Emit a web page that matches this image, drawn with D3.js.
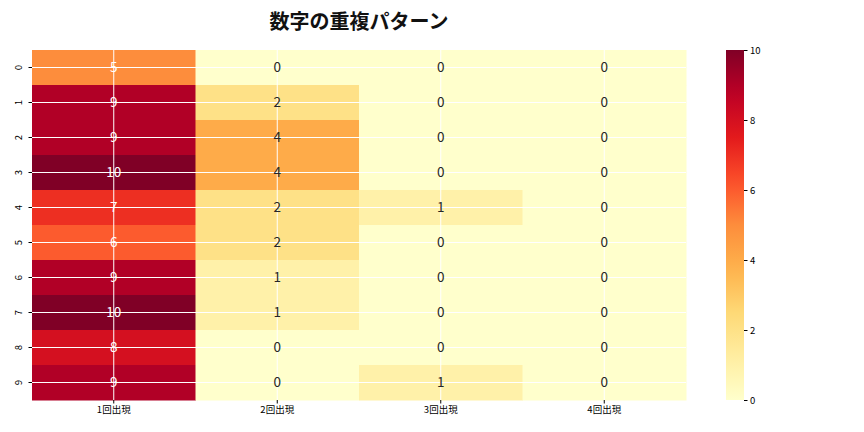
<!DOCTYPE html>
<html>
<head>
<meta charset="utf-8">
<script src="https://cdn.jsdelivr.net/npm/d3@7"></script>
<style>
  body { margin: 0; background: #fff; }
  text { font-family: "Noto Sans CJK JP", sans-serif; }
</style>
</head>
<body>
<svg id="chart" width="864" height="432"></svg>
<script>
// counts per digit (rows) and repeat count (columns)
const digits = ["0","1","2","3","4","5","6","7","8","9"];
const columns = ["1回出現","2回出現","3回出現","4回出現"];
const once   = [5, 9, 9, 10, 7, 6, 9, 10, 8, 9];
const twice  = [0, 2, 4, 4, 2, 2, 1, 1, 0, 0];
const thrice = [0, 0, 0, 0, 1, 0, 0, 0, 0, 1];
const four   = [0, 0, 0, 0, 0, 0, 0, 0, 0, 0];
const colorTicks = [0, 2, 4, 6, 8, 10];

const series = [once, twice, thrice, four];
const cells = [];
digits.forEach((d, i) => {
  columns.forEach((c, j) => cells.push({row: d, col: c, value: series[j][i]}));
});

const svg = d3.select("#chart");
const mLeft = 32, mRight = 686, mTop = 50, mBottom = 400;

const x = d3.scaleBand().domain(columns).range([mLeft, mRight]);
const y = d3.scaleBand().domain(digits).range([mTop, mBottom]);

// matplotlib-like YlOrRd: linear through the 9 brewer colours
const brewer = d3.schemeYlOrRd[9];
const color = d3.scaleLinear()
  .domain(d3.range(9).map(i => i * 10 / 8))
  .range(brewer)
  .interpolate(d3.interpolateRgb)
  .clamp(true);

svg.append("g").selectAll("rect")
  .data(cells)
  .join("rect")
  .attr("x", d => x(d.col))
  .attr("y", d => y(d.row))
  .attr("width", x.bandwidth() + 0.5)
  .attr("height", y.bandwidth() + 0.5)
  .attr("fill", d => color(d.value));

// white grid at tick positions
const grid = svg.append("g").attr("stroke", "#fff").attr("stroke-width", 1);
columns.forEach(c => {
  const cx = x(c) + x.bandwidth() / 2;
  grid.append("line").attr("x1", cx).attr("x2", cx).attr("y1", mTop).attr("y2", mBottom);
});
digits.forEach(d => {
  const cy = y(d) + y.bandwidth() / 2;
  grid.append("line").attr("x1", mLeft).attr("x2", mRight).attr("y1", cy).attr("y2", cy);
});

// annotations
function lum(c) {
  const rgb = d3.rgb(c);
  const f = v => { v /= 255; return v <= 0.03928 ? v / 12.92 : Math.pow((v + 0.055) / 1.055, 2.4); };
  return 0.2126 * f(rgb.r) + 0.7152 * f(rgb.g) + 0.0722 * f(rgb.b);
}
svg.append("g").selectAll("text")
  .data(cells)
  .join("text")
  .attr("x", d => x(d.col) + x.bandwidth() / 2)
  .attr("y", d => y(d.row) + y.bandwidth() / 2 + 4.8)
  .attr("text-anchor", "middle")
  .attr("font-size", 13.5)
  .attr("fill", d => lum(color(d.value)) > 0.408 ? "#262626" : "#fff")
  .text(d => d.value);

// axes
const xAxis = svg.append("g")
  .attr("transform", `translate(0,${mBottom})`)
  .call(d3.axisBottom(x).tickSize(3.5).tickPadding(3));
xAxis.select(".domain").remove();
xAxis.selectAll("text").attr("font-family", "'Noto Sans CJK JP', sans-serif").attr("font-size", 9.5).attr("fill", "#000");

const yAxis = svg.append("g")
  .attr("transform", `translate(${mLeft},0)`)
  .call(d3.axisLeft(y).tickSize(3.5).tickPadding(3));
yAxis.select(".domain").remove();
yAxis.selectAll("text")
  .attr("font-size", 9.5).attr("fill", "#000")
  .attr("text-anchor", "middle")
  .attr("dy", 0)
  .attr("x", 0)
  .attr("transform", "translate(-10,0) rotate(-90)");

// title
svg.append("text")
  .attr("x", (mLeft + mRight) / 2)
  .attr("y", 29)
  .attr("text-anchor", "middle")
  .attr("font-family", "'Noto Sans CJK JP', sans-serif")
  .attr("font-weight", "bold")
  .attr("font-size", 20)
  .attr("fill", "#111")
  .text("数字の重複パターン");

// colorbar
const cbX = 726, cbW = 18;
const cScale = d3.scaleLinear().domain([0, 10]).range([mBottom, mTop]);
const defs = svg.append("defs");
const grad = defs.append("linearGradient").attr("id", "cb")
  .attr("x1", 0).attr("x2", 0).attr("y1", 1).attr("y2", 0);
d3.range(0, 10.01, 0.5).forEach(v => {
  grad.append("stop").attr("offset", v / 10).attr("stop-color", color(v));
});
svg.append("rect")
  .attr("x", cbX).attr("y", mTop)
  .attr("width", cbW).attr("height", mBottom - mTop)
  .attr("fill", "url(#cb)");
const cAxis = svg.append("g")
  .attr("transform", `translate(${cbX + cbW},0)`)
  .call(d3.axisRight(cScale).tickValues(colorTicks).tickSize(3.5).tickPadding(2.5));
cAxis.select(".domain").remove();
cAxis.selectAll("text").attr("font-size", 9.5).attr("fill", "#000");
</script>
</body>
</html>
